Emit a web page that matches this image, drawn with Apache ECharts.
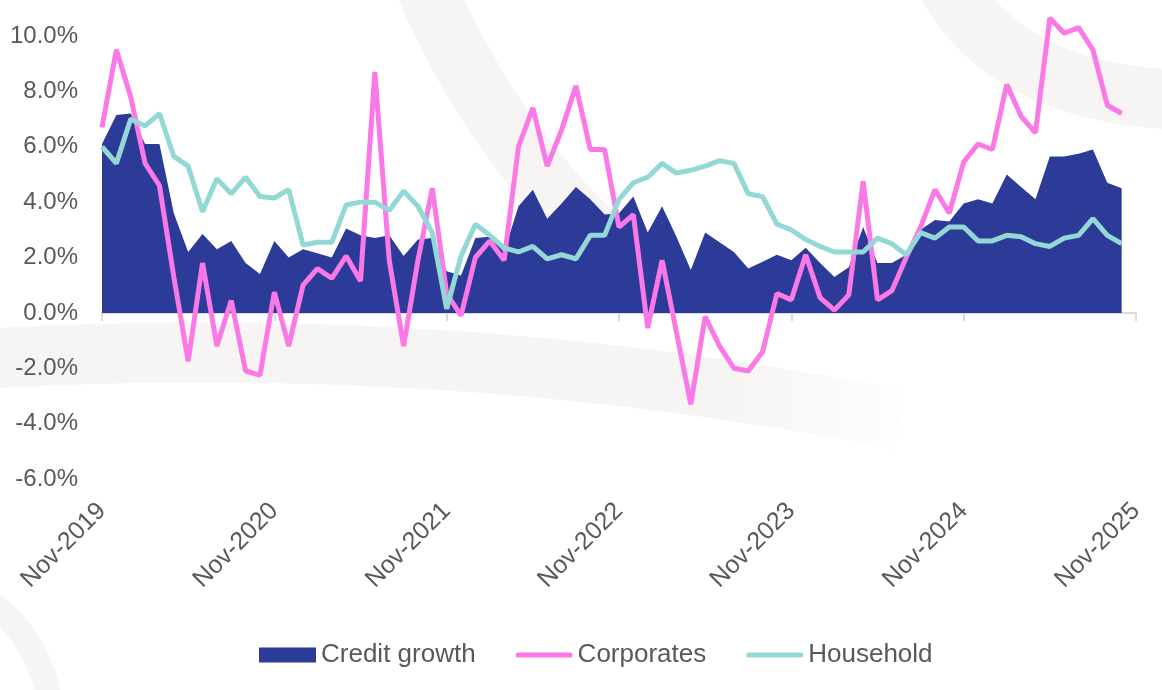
<!DOCTYPE html>
<html>
<head>
<meta charset="utf-8">
<script src="https://cdn.jsdelivr.net/npm/echarts@6/dist/echarts.min.js"></script>
<style>
html,body{margin:0;padding:0;background:#fff;}
#chart{width:1162px;height:690px;}
</style>
</head>
<body>
<div id="chart"></div>
<script>
// Monthly categories Nov-2019 .. Nov-2025
const monthNames = ['Nov','Dec','Jan','Feb','Mar','Apr','May','Jun','Jul','Aug','Sep','Oct'];
const startYear = 2019;
const categories = [];
for (let i = 0; i < 73; i++) {
  const y = startYear + Math.floor((i + 10) / 12);
  categories.push(monthNames[i % 12] + '-' + y);
}

const creditGrowth = [
  6.1, 7.15, 7.2, 6.1, 6.1, 3.6, 2.2, 2.85, 2.3, 2.6, 1.8, 1.4,
  2.6, 2.0, 2.3, 2.15, 2.0, 3.05, 2.8, 2.7, 2.8, 2.05, 2.65, 2.7,
  1.5, 1.35, 2.7, 2.75, 2.2, 3.85, 4.45, 3.4, 3.95, 4.55, 4.1, 3.55,
  3.6, 4.2, 2.9, 3.85, 2.75, 1.55, 2.9, 2.55, 2.2, 1.6, 1.85, 2.1,
  1.9, 2.35, 1.8, 1.3, 1.65, 3.1, 1.8, 1.8, 2.1, 3.0, 3.35, 3.3,
  3.95, 4.1, 3.95, 5.0, 4.55, 4.1, 5.65, 5.65, 5.75, 5.9, 4.7, 4.5
];
const corporates = [
  6.7, 9.5, 7.8, 5.4, 4.6, 1.3, -1.75, 1.8, -1.2, 0.45, -2.1, -2.25,
  0.75, -1.2, 1.0, 1.6, 1.25, 2.05, 1.15, 8.7, 1.9, -1.2, 1.9, 4.5,
  0.7, -0.1, 2.0, 2.6, 1.9, 6.0, 7.4, 5.3, 6.6, 8.2, 5.9, 5.9,
  3.1, 3.55, -0.55, 1.9, -0.7, -3.3, -0.13, -1.2, -2.0, -2.1, -1.4, 0.7,
  0.47, 2.1, 0.55, 0.1, 0.65, 4.75, 0.47, 0.8, 2.0, 3.1, 4.45, 3.6,
  5.45, 6.1, 5.9, 8.25, 7.1, 6.5, 10.65, 10.1, 10.3, 9.5, 7.5, 7.2
];
const household = [
  6.0, 5.4, 7.0, 6.75, 7.2, 5.65, 5.3, 3.65, 4.85, 4.3, 4.9, 4.2,
  4.15, 4.45, 2.45, 2.55, 2.55, 3.9, 4.0, 4.0, 3.7, 4.4, 3.85, 2.9,
  0.15, 2.05, 3.2, 2.8, 2.35, 2.2, 2.4, 1.95, 2.1, 1.95, 2.8, 2.8,
  4.1, 4.7, 4.9, 5.4, 5.05, 5.15, 5.3, 5.5, 5.4, 4.3, 4.2, 3.2,
  3.0, 2.65, 2.4, 2.2, 2.2, 2.2, 2.7, 2.5, 2.1, 2.9, 2.7, 3.1,
  3.1, 2.6, 2.6, 2.8, 2.75, 2.5, 2.4, 2.7, 2.8, 3.4, 2.8, 2.5
];
const seriesNames = ['Credit growth', 'Corporates', 'Household'];
const yTicks = { min: -6, max: 10, interval: 2 };

const NAVY = '#2b3b97', PINK = '#fb79e6', TEAL = '#94d8d5';
const TXT = '#595959', AXIS = '#d9d9d9', SWOOSH = '#f6f5f3';
const everyYear = (i) => i % 12 === 0;
const lineIcon = 'path://M0,0 M0,15 M2.5,5 L54.5,5 A2.5,2.5,0,0,1,54.5,10 L2.5,10 A2.5,2.5,0,0,1,2.5,5 Z';

const chart = echarts.init(document.getElementById('chart'), null, { renderer: 'canvas' });
const swoosh = (x1, y1, cx, cy, x2, y2, w, stroke) => ({
  type: 'bezierCurve', silent: true, z: -100,
  shape: { x1: x1, y1: y1, cpx1: cx, cpy1: cy, x2: x2, y2: y2 },
  style: { stroke: stroke || SWOOSH, lineWidth: w, fill: null }
});
const fadeRight = new echarts.graphic.LinearGradient(0, 0, 1, 0, [
  { offset: 0, color: SWOOSH }, { offset: 0.8, color: SWOOSH }, { offset: 1, color: '#ffffff' }
]);
chart.setOption({
  backgroundColor: '#ffffff',
  animation: false,
  textStyle: { fontFamily: 'Liberation Sans, Arial, sans-serif' },
  graphic: [
    swoosh(415, -40, 480, 130, 610, 250, 60),
    swoosh(-40, 360, 450, 330, 900, 420, 60, fadeRight),
    swoosh(940, -30, 1000, 100, 1200, 100, 60),
    swoosh(-15, 600, 35, 630, 50, 700, 25)
  ],
  grid: { left: 102, right: 26, top: 36, bottom: 211, containLabel: false },
  legend: {
    left: 254, top: 637,
    itemWidth: 57, itemHeight: 15, itemGap: 40,
    textStyle: { color: TXT, fontSize: 26, fontFamily: 'Liberation Sans, Arial, sans-serif' },
    data: [
      { name: seriesNames[0], icon: 'rect' },
      { name: seriesNames[1], icon: lineIcon },
      { name: seriesNames[2], icon: lineIcon }
    ]
  },
  xAxis: [
    {
      type: 'category', data: categories, boundaryGap: false, position: 'bottom',
      axisLine: { show: true, onZero: true, lineStyle: { color: AXIS, width: 2 } },
      axisTick: { show: true, interval: everyYear, length: 8, lineStyle: { color: AXIS, width: 2 } },
      axisLabel: { show: false },
      splitLine: { show: false }
    },
    {
      type: 'category', data: categories, boundaryGap: false, position: 'bottom',
      axisLine: { show: false, onZero: false },
      axisTick: { show: false },
      axisLabel: { show: true, interval: everyYear, rotate: 45, fontSize: 25, color: TXT, margin: 28 },
      splitLine: { show: false }
    }
  ],
  yAxis: {
    type: 'value', min: yTicks.min, max: yTicks.max, interval: yTicks.interval,
    axisLine: { show: false }, axisTick: { show: false }, splitLine: { show: false },
    axisLabel: { fontSize: 24, color: TXT, margin: 24, padding: [6, 0, 0, 0], formatter: (v) => v.toFixed(1) + '%' }
  },
  series: [
    {
      name: seriesNames[0], type: 'line', data: creditGrowth, xAxisIndex: 0,
      symbol: 'none', lineStyle: { width: 0 }, itemStyle: { color: NAVY },
      areaStyle: { color: NAVY, opacity: 1 }, clip: false, z: 2
    },
    {
      name: seriesNames[1], type: 'line', data: corporates, xAxisIndex: 0,
      symbol: 'none', lineStyle: { width: 5, color: PINK }, itemStyle: { color: PINK },
      clip: false, z: 3
    },
    {
      name: seriesNames[2], type: 'line', data: household, xAxisIndex: 0,
      symbol: 'none', lineStyle: { width: 5, color: TEAL }, itemStyle: { color: TEAL },
      clip: false, z: 4
    }
  ]
});
</script>
</body>
</html>
